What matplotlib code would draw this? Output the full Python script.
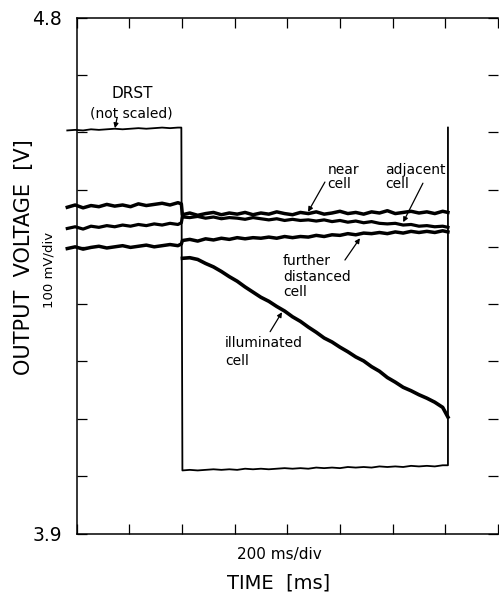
import matplotlib.pyplot as plt

# sample times [ms]: before and after the 400 ms switch
t_pre = [-35, -5, 25, 55, 85, 115, 145, 175, 205, 235, 265, 295, 325, 355, 385, 398]
t_post = [402, 430, 460, 490, 520, 550, 580, 610, 640, 670, 700, 730, 760, 790, 820,
          850, 880, 910, 940, 970, 1000, 1030, 1060, 1090, 1120, 1150, 1180, 1210, 1240,
          1270, 1300, 1330, 1360, 1390, 1410]

# output voltage [V]
near_pre = [4.469, 4.473, 4.468, 4.472, 4.470, 4.474, 4.471, 4.473, 4.470, 4.475,
            4.472, 4.474, 4.476, 4.473, 4.477, 4.475]
near_post = [4.456, 4.459, 4.455, 4.458, 4.460, 4.456, 4.459, 4.457, 4.460, 4.456,
             4.459, 4.457, 4.461, 4.458, 4.456, 4.460, 4.458, 4.461, 4.457, 4.459,
             4.462, 4.458, 4.460, 4.457, 4.461, 4.459, 4.463, 4.458, 4.460, 4.462,
             4.459, 4.461, 4.458, 4.462, 4.460]

adjacent_pre = [4.432, 4.435, 4.431, 4.436, 4.434, 4.437, 4.435, 4.438, 4.436, 4.439,
                4.437, 4.440, 4.438, 4.441, 4.439, 4.442]
adjacent_post = [4.452, 4.451, 4.453, 4.450, 4.452, 4.449, 4.451, 4.450, 4.448, 4.451,
                 4.449, 4.447, 4.449, 4.446, 4.448, 4.446, 4.447, 4.445, 4.447, 4.444,
                 4.446, 4.443, 4.445, 4.442, 4.444, 4.441, 4.440, 4.441, 4.438, 4.439,
                 4.436, 4.437, 4.435, 4.436, 4.434]

further_pre = [4.397, 4.400, 4.396, 4.399, 4.401, 4.398, 4.400, 4.402, 4.399, 4.401,
               4.403, 4.400, 4.402, 4.404, 4.402, 4.405]
further_post = [4.411, 4.413, 4.410, 4.414, 4.412, 4.415, 4.413, 4.416, 4.414, 4.416,
                4.415, 4.417, 4.415, 4.418, 4.416, 4.418, 4.417, 4.420, 4.418, 4.421,
                4.420, 4.423, 4.421, 4.424, 4.423, 4.425, 4.423, 4.426, 4.424, 4.427,
                4.425, 4.427, 4.425, 4.428, 4.426]

illuminated_post = [4.380, 4.381, 4.378, 4.371, 4.365, 4.357, 4.348, 4.340, 4.330, 4.321,
                    4.312, 4.305, 4.296, 4.288, 4.278, 4.270, 4.260, 4.251, 4.241, 4.234,
                    4.225, 4.217, 4.208, 4.201, 4.191, 4.183, 4.172, 4.164, 4.155, 4.149,
                    4.142, 4.136, 4.129, 4.120, 4.103]

drst_pre = [4.603, 4.604, 4.603, 4.605, 4.604, 4.605, 4.606, 4.605, 4.606, 4.607,
            4.606, 4.607, 4.608, 4.607, 4.608, 4.608]
drst_post = [4.010, 4.011, 4.010, 4.011, 4.012, 4.011, 4.012, 4.011, 4.013, 4.012,
             4.013, 4.012, 4.013, 4.014, 4.013, 4.014, 4.013, 4.015, 4.014, 4.015,
             4.014, 4.016, 4.015, 4.016, 4.015, 4.017, 4.016, 4.017, 4.016, 4.018,
             4.017, 4.018, 4.017, 4.019, 4.019]
drst_end = 4.608

x_ticks = [0, 200, 400, 600, 800, 1000, 1200, 1400, 1600]
y_ticks = [3.9, 4.0, 4.1, 4.2, 4.3, 4.4, 4.5, 4.6, 4.7, 4.8]
y_ticklabels = ['3.9', '', '', '', '', '', '', '', '', '4.8']

W, H = 499, 595
fig = plt.figure(figsize=(W / 100, H / 100), dpi=100)
ax = fig.add_axes([76.5 / W, (H - 533.5) / H, (498 - 76.5) / W, 516 / H])

t_all = t_pre + t_post
ax.plot(t_all, near_pre + near_post, color='black', lw=2.5, clip_on=False)
ax.plot(t_all, adjacent_pre + adjacent_post, color='black', lw=2.3, clip_on=False)
ax.plot(t_all, further_pre + further_post, color='black', lw=2.5, clip_on=False)
ax.plot(t_post, illuminated_post, color='black', lw=2.6)
ax.plot(t_all + [t_post[-1]], drst_pre + drst_post + [drst_end],
        color='black', lw=1.3, clip_on=False)

ax.set_xlim(0, 1600)
ax.set_ylim(3.9, 4.8)
ax.set_xticks(x_ticks)
ax.set_xticklabels([])
ax.set_yticks(y_ticks)
ax.set_yticklabels(y_ticklabels, fontsize=13.5)
ax.tick_params(axis='both', direction='in', length=7.2, width=0.9,
               top=True, right=True, pad=10.4)
ax.spines['right'].set_visible(False)
for s in ['left', 'top', 'bottom']:
    ax.spines[s].set_linewidth(1.1)

# trace labels and arrows
arrow = dict(arrowstyle='-|>', color='black', lw=0.9, mutation_scale=7,
             shrinkA=0, shrinkB=0)
ax.text(211, 4.668, 'DRST', ha='center', va='center', fontsize=11)
ax.text(207, 4.633, '(not scaled)', ha='center', va='center', fontsize=10)
ax.annotate('', xy=(146, 4.607), xytext=(154, 4.625), arrowprops=arrow)

ax.text(952, 4.521, 'near\ncell', ha='left', va='center', fontsize=10, linespacing=1.0)
ax.annotate('', xy=(879, 4.461), xytext=(943, 4.513), arrowprops=arrow)

ax.text(1171, 4.521, 'adjacent\ncell', ha='left', va='center', fontsize=10, linespacing=1.0)
ax.annotate('', xy=(1240, 4.443), xytext=(1315, 4.511), arrowprops=arrow)

ax.text(784, 4.348, 'further\ndistanced\ncell', ha='left', va='center', fontsize=10,
        linespacing=1.15)
ax.annotate('', xy=(1076, 4.415), xytext=(1019, 4.377), arrowprops=arrow)

ax.text(564, 4.216, 'illuminated\ncell', ha='left', va='center', fontsize=10,
        linespacing=1.35)
ax.annotate('', xy=(780, 4.286), xytext=(735, 4.252), arrowprops=arrow)

# axis titles
fig.text(24 / W, 1 - 257 / H, 'OUTPUT  VOLTAGE  [V]', rotation=90,
         ha='center', va='center', fontsize=15)
fig.text(49 / W, 1 - 270 / H, '100 mV/div', rotation=90,
         ha='center', va='center', fontsize=9.5)
fig.text(279 / W, 1 - 555 / H, '200 ms/div', ha='center', va='center', fontsize=11)
fig.text(279 / W, 1 - 583 / H, 'TIME  [ms]', ha='center', va='center', fontsize=14)

fig.savefig('out.png', dpi=100)
